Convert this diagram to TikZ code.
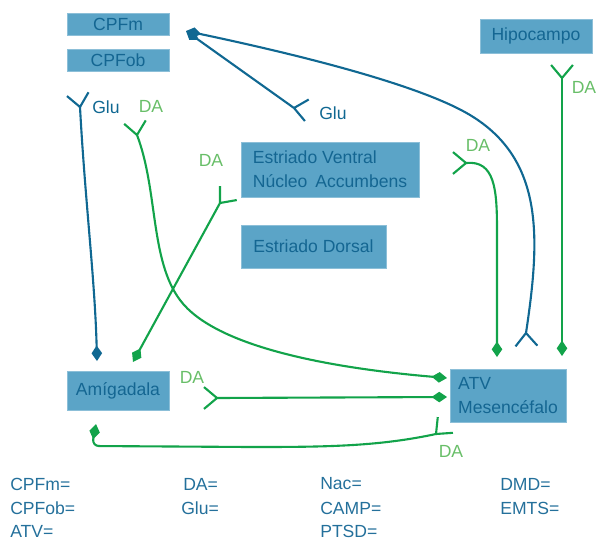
\documentclass[tikz,border=0pt]{standalone}
\usepackage{fontspec}
\setmainfont{Liberation Sans}
\usetikzlibrary{arrows.meta}

\definecolor{boxfill}{RGB}{91,164,199}
\definecolor{boxtext}{RGB}{20,102,146}
\definecolor{linkblue}{RGB}{16,104,146}
\definecolor{linkgreen}{RGB}{18,163,74}
\definecolor{dagreen}{RGB}{104,190,104}
\definecolor{legblue}{RGB}{36,112,155}

\begin{document}
\begin{tikzpicture}[x=0.025cm, y=-0.025cm,
    every node/.style={font=\fontsize{12.5}{17}\selectfont},
    region/.style={fill=boxfill, draw=boxfill!70!white, line width=0.4pt,
                   text=boxtext, align=left, inner sep=2pt},
    boxsize/.style 2 args={minimum width=#1*0.025cm, minimum height=#2*0.025cm},
    blueline/.style={color=linkblue, line width=1.5pt},
    greenline/.style={color=linkgreen, line width=1.5pt},
    syn/.style={-{Diamond[length=11pt,width=7.5pt]}},
    damark/.style={text=dagreen},
    glumark/.style={text=linkblue},
    legend/.style={text=legblue, anchor=west, inner xsep=0pt},
    pics/fork/.style={code={\draw (0,0) -- (40:17) (0,0) -- (-40:17);}}
  ]
  \useasboundingbox (0,0) rectangle (601,540);
  % Brain regions
  \node[region, boxsize={102}{22}] (cpfm) at (118,24) {CPFm};
  \node[region, boxsize={102}{22}] (cpfob) at (118,60) {CPFob};
  \node[region, boxsize={112}{34}] (hipo) at (536,36) {Hipocampo};
  \node[region, boxsize={178}{55}] (estv) at (330,169.5)
        {Estriado Ventral\\Núcleo\ \,Accumbens};
  \node[region, boxsize={145}{43}] (estd) at (313.5,246.5) {Estriado Dorsal};
  \node[region, boxsize={102}{39}] (amig) at (118,390.5) {Amígadala};
  \node[region, boxsize={116}{53}] (atv) at (508,395.5) {ATV\\Mesencéfalo};
  % Receptor forks
  \coordinate (fGluL) at (80,107);
  \coordinate (fDAL) at (137,135);
  \coordinate (fGluM) at (294,108);
  \coordinate (fDAV) at (220,203);
  \coordinate (fDAR) at (466,163);
  \coordinate (fDAH) at (562,78);
  \coordinate (fDAA) at (217,398);
  \coordinate (fDAB) at (436,434);
  \coordinate (fGluA) at (526,333);
  % Terminal tips
  \coordinate (tCPFm) at (186,31);
  \coordinate (tAmigGlu) at (97,361);
  \coordinate (tAmigDA) at (133,362);
  \coordinate (tAmigLow) at (96,424);
  \coordinate (tATV1) at (447,378);
  \coordinate (tATV2) at (447,397);
  \coordinate (tATVR) at (497,357);
  \coordinate (tATVH) at (562,356);
  % Glu projections
  \draw[blueline, syn] (fGluM) -- (tCPFm);
  \draw[blueline, syn] (fGluA) .. controls (540,240) and (545,160) .. (470,115)
        .. controls (420,85) and (300,55) .. (tCPFm);
  \draw[blueline, syn] (fGluL) .. controls (85,200) and (95,280) .. (tAmigGlu);
  % DA projections
  \draw[greenline, syn] (fDAL) .. controls (158,190) and (150,260) .. (180,300)
        .. controls (215,347) and (330,368) .. (tATV1);
  \draw[greenline, syn] (fDAV) -- (tAmigDA);
  \draw[greenline, syn] (fDAR) .. controls (495,160) and (497,190) .. (497,230)
        -- (tATVR);
  \draw[greenline, syn] (fDAH) -- (tATVH);
  \draw[greenline, syn] (fDAA) -- (tATV2);
  \draw[greenline, syn, rounded corners=5] (fDAB) .. controls (380,446) and (330,447)
        .. (250,447) -- (92,446) -- (tAmigLow);
  \pic[blueline, rotate=100] at (fGluL) {fork};
  \pic[greenline, rotate=99] at (fDAL) {fork};
  \pic[blueline, rotate=-10] at (fGluM) {fork};
  \pic[greenline, rotate=50] at (fDAV) {fork};
  \pic[greenline, rotate=180] at (fDAR) {fork};
  \pic[greenline, rotate=90] at (fDAH) {fork};
  \pic[greenline, rotate=180] at (fDAA) {fork};
  \pic[greenline, rotate=44] at (fDAB) {fork};
  \pic[blueline, rotate=-88] at (fGluA) {fork};
  % Transmitter labels
  \node[glumark] (gluL) at (106,107) {Glu};
  \node[damark] (daL) at (151,106) {DA};
  \node[glumark] (gluM) at (333,113) {Glu};
  \node[damark] (daV) at (211,160) {DA};
  \node[damark] (daR) at (478,145) {DA};
  \node[damark] (daH) at (584,87) {DA};
  \node[damark] (daA) at (192,377) {DA};
  \node[damark] (daB) at (451,451) {DA};
  % Legend
  \foreach \legtext/\x/\y [count=\i] in {CPFm=/10/484, CPFob=/10/508, ATV=/10/531,
      DA=/183/484, Glu=/181/508, Nac=/320/484, CAMP=/320/508, PTSD=/320/531,
      DMD=/500/484, EMTS=/500/508}
    \node[legend] (leg\i) at (\x,\y) {\legtext};
\end{tikzpicture}
\end{document}
